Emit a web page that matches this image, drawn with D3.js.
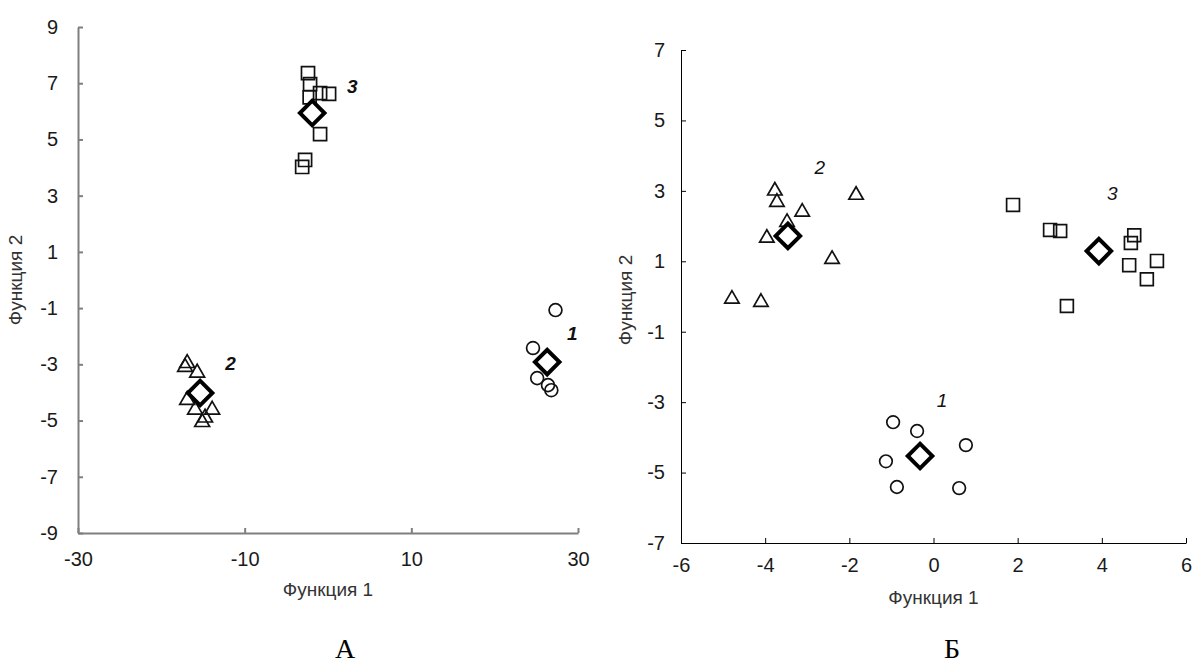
<!DOCTYPE html>
<html>
<head>
<meta charset="utf-8">
<script src="https://cdn.jsdelivr.net/npm/d3@7/dist/d3.min.js"></script>
<style>
  html, body { margin: 0; padding: 0; background: #fff; }
  svg { display: block; font-family: "Liberation Sans", Arial, sans-serif; }
</style>
</head>
<body>
<svg id="chart" width="1202" height="665"></svg>
<script>
// Panel A: discriminant scores, groups 1-3
const aGroup1 = [[27.3, -1.07], [24.6, -2.42], [25.1, -3.49], [26.4, -3.74], [26.8, -3.92]];
const aGroup2 = [[-16.9, -2.96], [-17.15, -3.1], [-15.7, -3.3], [-16.9, -4.27], [-15.95, -4.62],
                 [-13.9, -4.62], [-14.75, -4.9], [-15.1, -5.06]];
const aGroup3 = [[-2.4, 7.36], [-2.15, 6.97], [-0.95, 6.65], [0.13, 6.62], [-2.2, 6.5],
                 [-0.95, 5.19], [-2.75, 4.27], [-3.1, 4.02]];
const aCentroids = [[26.3, -2.92], [-15.35, -4.02], [-1.9, 5.94]];
const aXTicks = [-30, -10, 10, 30];
const aYTicks = [-9, -7, -5, -3, -1, 1, 3, 5, 7, 9];

// Panel Б
const bGroup1 = [[-0.96, -3.57], [-0.39, -3.82], [0.77, -4.22], [-1.13, -4.68], [-0.87, -5.41], [0.61, -5.44]];
const bGroup2 = [[-3.77, 3.0], [-3.72, 2.68], [-3.12, 2.40], [-1.84, 2.88], [-3.48, 2.11],
                 [-3.96, 1.66], [-2.41, 1.06], [-4.79, -0.07], [-4.10, -0.16]];
const bGroup3 = [[1.89, 2.60], [2.77, 1.89], [3.01, 1.86], [4.69, 1.52], [4.77, 1.74],
                 [4.65, 0.89], [5.31, 1.01], [5.07, 0.49], [3.17, -0.27]];
const bCentroids = [[-0.32, -4.53], [-3.46, 1.72], [3.93, 1.29]];
const bXTicks = [-6, -4, -2, 0, 2, 4, 6];
const bYTicks = [-7, -5, -3, -1, 1, 3, 5, 7];

const groupLabels = ["1", "2", "3"];
const svg = d3.select("#chart");
const plain = d => String(d);

function drawPanel(cfg) {
  const x = d3.scaleLinear().domain(cfg.xDomain).range([cfg.left, cfg.right]);
  const y = d3.scaleLinear().domain(cfg.yDomain).range([cfg.bottom, cfg.top]);
  const g = svg.append("g");

  const xAxis = d3.axisBottom(x).tickValues(cfg.xTicks).tickSizeInner(-5).tickSizeOuter(0)
    .tickPadding(cfg.xPad).tickFormat(plain);
  const yAxis = d3.axisLeft(y).tickValues(cfg.yTicks).tickSizeInner(-5).tickSizeOuter(0)
    .tickPadding(cfg.yPad).tickFormat(plain);

  const gx = g.append("g").attr("transform", `translate(0,${cfg.bottom})`).call(xAxis);
  const gy = g.append("g").attr("transform", `translate(${cfg.left},0)`).call(yAxis);
  [gx, gy].forEach(a => {
    a.attr("font-size", null).attr("font-family", null);
    a.selectAll("path, line").attr("stroke", cfg.axisColor).attr("stroke-width", cfg.axisWidth);
    a.selectAll("text").attr("fill", "#1a1a1a").attr("font-size", 20)
      .attr("font-family", "'Liberation Sans', Arial, sans-serif");
  });
  gx.selectAll("text").attr("dy", "0.71em");

  // axis titles
  g.append("text").attr("x", (cfg.left + cfg.right) / 2).attr("y", cfg.xTitleY)
    .attr("text-anchor", "middle").attr("fill", "#333").attr("font-size", 19).text("Функция 1");
  g.append("text").attr("transform", `translate(${cfg.yTitleX},${cfg.yTitleY}) rotate(-90)`)
    .attr("text-anchor", "middle").attr("fill", "#333").attr("font-size", 19).text("Функция 2");

  const mark = (data, type, size) => g.append("g").selectAll("path").data(data).join("path")
    .attr("transform", d => `translate(${x(d[0])},${y(d[1])})`)
    .attr("d", d3.symbol().type(type).size(size))
    .attr("fill", "none").attr("stroke", "#111").attr("stroke-width", 1.7);

  mark(cfg.g3, d3.symbolSquare, cfg.sq);
  mark(cfg.g2, d3.symbolTriangle, cfg.tri);
  mark(cfg.g1, d3.symbolCircle, cfg.circ);

  // group centroids as bold diamonds
  g.append("g").selectAll("path").data(cfg.centroids).join("path")
    .attr("transform", d => `translate(${x(d[0])},${y(d[1])}) rotate(45)`)
    .attr("d", d3.symbol().type(d3.symbolSquare).size(cfg.dia))
    .attr("fill", "#fff").attr("stroke", "#000").attr("stroke-width", 4);

  g.append("g").selectAll("text").data(cfg.labelPos).join("text")
    .attr("x", d => x(d[0])).attr("y", d => y(d[1]))
    .attr("text-anchor", "middle").attr("dy", "0.35em")
    .attr("font-size", 19).attr("font-style", "italic")
    .attr("font-weight", cfg.labelWeight).attr("fill", "#111")
    .text((d, i) => groupLabels[i]);

  svg.append("text").attr("x", cfg.captionX).attr("y", 658)
    .attr("text-anchor", "middle").attr("font-family", "'Liberation Serif', 'Times New Roman', serif")
    .attr("font-size", 28).attr("fill", "#000").text(cfg.caption);
}

drawPanel({
  xDomain: [-30, 30], yDomain: [-9, 9], left: 78, right: 578, top: 27, bottom: 533,
  xTicks: aXTicks, yTicks: aYTicks, xPad: 19, yPad: 20, axisColor: "#7f7f7f", axisWidth: 2,
  xTitleY: 596, yTitleX: 22, yTitleY: 280,
  g1: aGroup1, g2: aGroup2, g3: aGroup3, centroids: aCentroids,
  labelPos: [[29.3, -1.89], [-11.7, -2.96], [2.9, 6.9]], labelWeight: "bold",
  sq: 170, tri: 95, circ: 130, dia: 300, caption: "А", captionX: 345
});

drawPanel({
  xDomain: [-6, 6], yDomain: [-7, 7], left: 681, right: 1186, top: 50, bottom: 543,
  xTicks: bXTicks, yTicks: bYTicks, xPad: 15, yPad: 16, axisColor: "#000", axisWidth: 1,
  xTitleY: 604, yTitleX: 632, yTitleY: 300,
  g1: bGroup1, g2: bGroup2, g3: bGroup3, centroids: bCentroids,
  labelPos: [[0.2, -2.95], [-2.7, 3.66], [4.25, 2.92]], labelWeight: "normal",
  sq: 165, tri: 90, circ: 125, dia: 300, caption: "Б", captionX: 952
});
</script>
</body>
</html>
